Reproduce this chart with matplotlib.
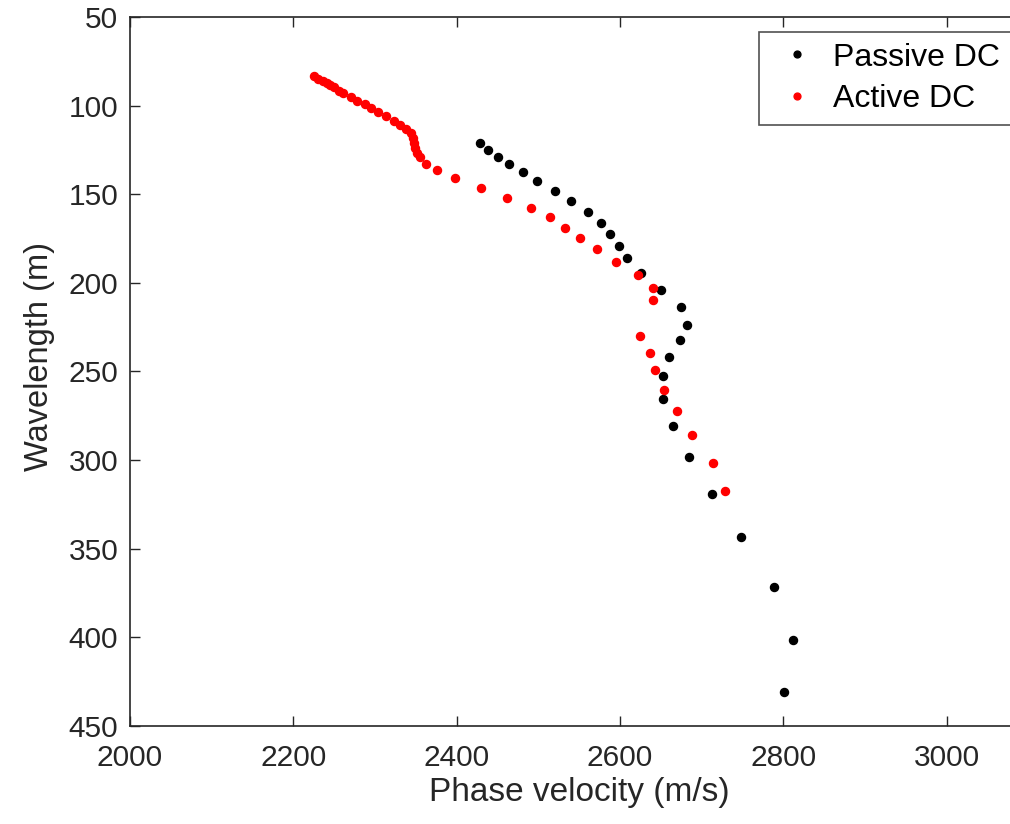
import matplotlib
matplotlib.use("Agg")
import matplotlib.pyplot as plt

plt.rcParams['font.family'] = ['Liberation Sans', 'DejaVu Sans']

passive_v = [2428.7, 2438.9, 2450.3, 2464.6, 2480.9, 2498.4, 2520.0, 2540.4, 2560.8,
             2576.4, 2588.2, 2598.4, 2608.7, 2626.2, 2650.6, 2674.4, 2682.1, 2674.2,
             2660.5, 2652.3, 2652.3, 2664.6, 2684.2, 2712.3, 2748.3, 2788.3, 2812.3, 2800.6]
passive_w = [121.3, 125.1, 129.0, 133.1, 137.6, 142.7, 148.2, 154.0, 160.0,
             166.3, 172.6, 179.2, 186.2, 194.6, 203.9, 213.8, 223.7, 232.3,
             242.1, 252.8, 265.4, 280.7, 298.1, 319.0, 343.6, 371.8, 401.9, 430.9]

active_v = [2225.7, 2230.6, 2236.0, 2240.9, 2244.9, 2250.2, 2256.4, 2261.3, 2270.3,
            2278.4, 2287.4, 2294.8, 2304.1, 2313.2, 2323.4, 2331.1, 2337.7, 2343.8,
            2346.2, 2347.8, 2349.4, 2351.9, 2355.2, 2362.2, 2375.6, 2397.7, 2429.5,
            2462.1, 2490.7, 2514.0, 2532.4, 2550.8, 2571.5, 2595.2, 2622.2, 2640.2,
            2640.2, 2624.4, 2637.3, 2643.4, 2654.4, 2670.0, 2688.3, 2713.6, 2728.3]
active_w = [83.3, 85.0, 86.3, 87.4, 88.5, 89.7, 91.6, 93.1, 95.3,
            97.2, 99.3, 101.4, 103.8, 106.0, 108.5, 110.8, 113.2, 115.6,
            118.5, 121.3, 124.1, 126.9, 129.2, 132.8, 136.5, 140.9, 146.3,
            151.9, 157.6, 163.0, 168.9, 174.7, 181.1, 188.3, 195.8, 203.0,
            209.7, 230.0, 239.8, 249.4, 260.3, 272.5, 286.1, 301.5, 317.3]

x_ticks = [2000, 2200, 2400, 2600, 2800, 3000]
y_ticks = [50, 100, 150, 200, 250, 300, 350, 400, 450]

W, H = 1010, 824
fig = plt.figure(figsize=(W / 100, H / 100), dpi=100)
ax_left, ax_bottom, ax_top = 130 / W, 1 - 725.7 / H, 1 - 17 / H
ax_width_px = 1100 * 0.8165
ax = fig.add_axes([ax_left, ax_bottom, ax_width_px / W, ax_top - ax_bottom])

dark = '#262626'
ax.plot(passive_v, passive_w, linestyle='none', marker='o', markersize=5.8,
        color='black', label='Passive DC')
ax.plot(active_v, active_w, linestyle='none', marker='o', markersize=5.8,
        color='red', label='Active DC')

ax.set_xlim(2000, 3100)
ax.set_ylim(450, 50)
ax.set_xticks(x_ticks)
ax.set_yticks(y_ticks)
ax.tick_params(direction='in', length=7.2, width=1, colors=dark, labelsize=21.5,
               top=True, right=True)
ax.tick_params(axis='x', pad=13)
ax.tick_params(axis='y', pad=8.5)
for sp in ax.spines.values():
    sp.set_color(dark)
    sp.set_linewidth(1.2)

ax.set_xlabel('Phase velocity (m/s)', fontsize=24, color=dark, labelpad=4)
ax.set_ylabel('Wavelength (m)', fontsize=23.5, color=dark)
ax.yaxis.set_label_coords((55 - 130) / ax_width_px, (725.7 - 356.5) / 708.7)

leg = ax.legend(loc='upper left', bbox_to_anchor=(759 / W, 1 - 32 / H),
                bbox_transform=fig.transFigure, fontsize=23, frameon=True,
                fancybox=False, borderaxespad=0, borderpad=0.33,
                handlelength=1.72, handletextpad=0.27, labelspacing=0.36,
                markerscale=0.85)
leg.get_frame().set_edgecolor(dark)
leg.get_frame().set_linewidth(1.2)
for t in leg.get_texts():
    t.set_color('black')

fig.savefig('out.png', dpi=100)
